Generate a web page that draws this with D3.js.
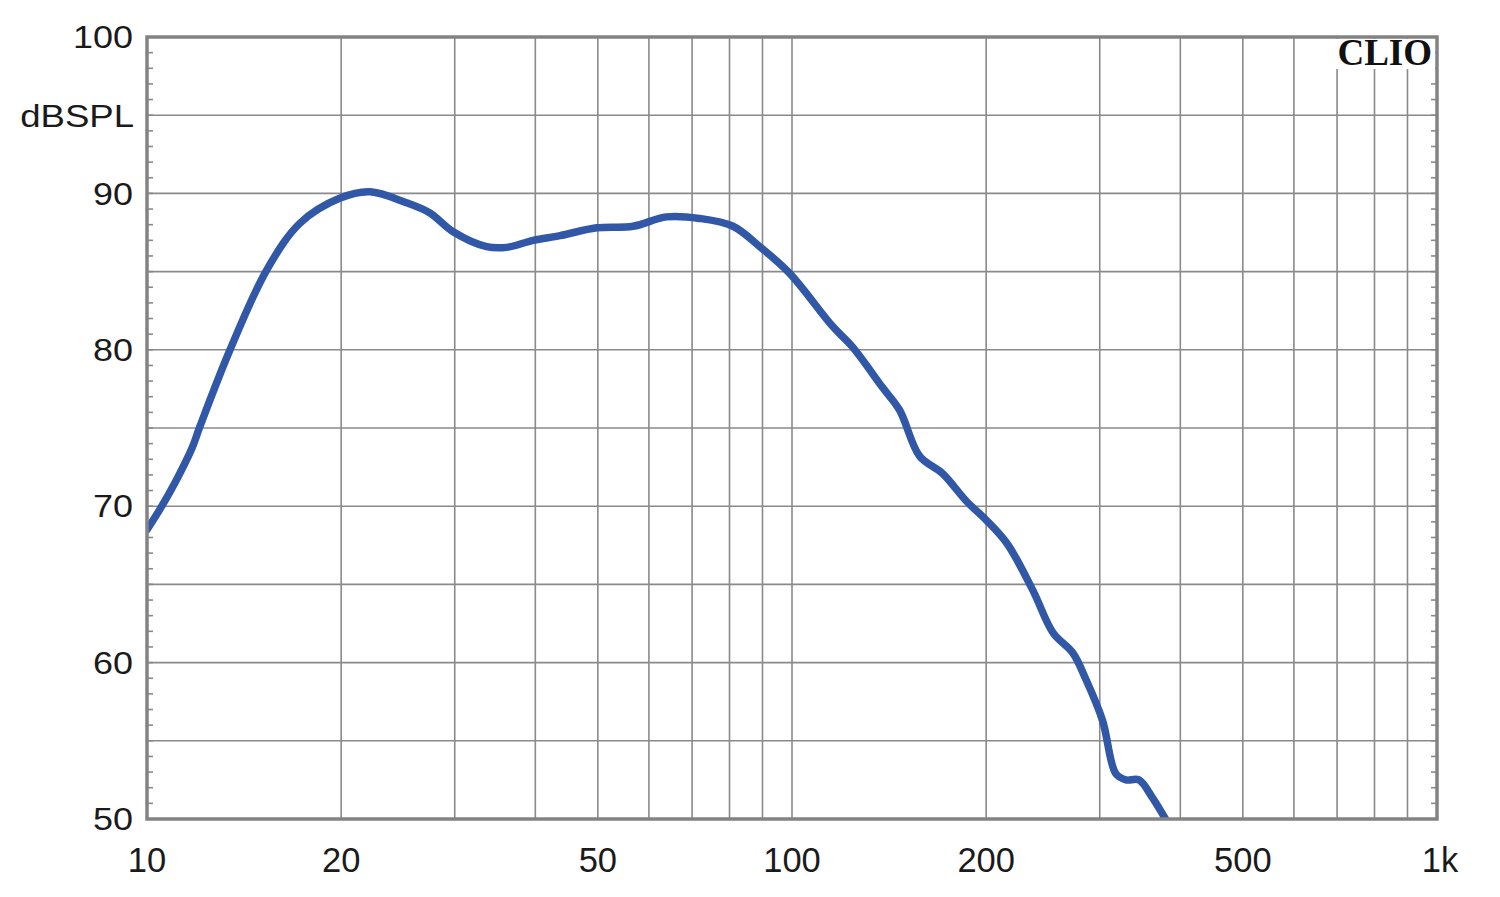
<!DOCTYPE html>
<html><head><meta charset="utf-8">
<script src="https://cdn.jsdelivr.net/npm/d3@7"></script>
<style>body{margin:0;background:#fff}svg{display:block}</style>
</head><body><svg id="c" width="1500" height="897"></svg>
<script>
const freqs = [10,10.47,11.05,11.74,12.08,13.45,15.33,17.27,19.93,22.16,25.25,27.45,29.83,33.6,36.1,39.7,43.7,49.8,56.7,63.9,71.9,81,89.1,99.1,115.6,124,138.1,146.8,157.7,171,186.6,200.2,215.6,236.4,254,272.7,285.7,303,317.7,329.4,345,361.6,379.3];
const spl   = [68.5,69.8,71.5,73.7,75.1,80.0,85.1,88.1,89.7,90.1,89.4,88.75,87.55,86.6,86.55,87.0,87.3,87.8,87.9,88.5,88.4,87.9,86.6,84.9,81.5,80.2,77.6,76.15,73.2,72.1,70.3,69.1,67.6,64.6,61.9,60.6,58.9,56.3,52.9,52.5,52.5,51.4,50.0];
const xTickValues = [10,20,50,100,200,500,1000];
const xTickLabels = ["10","20","50","100","200","500","1k"];
const xGridValues = [20,30,40,50,60,70,80,90,100,200,300,400,500,600,700,800,900];
const yTickValues = [50,60,70,80,90,100];
const yGridValues = [55,60,65,70,75,80,85,90,95];
const yMinorValues = d3.range(51,100);

const L=147,R=1437,T=37,B=819;
const svg=d3.select("#c");
const x=d3.scaleLog().domain([10,1000]).range([L,R]);
const y=d3.scaleLinear().domain([50,100]).range([B,T]);
const gridCol="#8a8a8a";

svg.append("g").selectAll("line").data(xGridValues).join("line")
 .attr("x1",d=>x(d)).attr("x2",d=>x(d)).attr("y1",T).attr("y2",B)
 .attr("stroke",gridCol).attr("stroke-width",1.6);
svg.append("g").selectAll("line").data(yGridValues).join("line")
 .attr("x1",L).attr("x2",R).attr("y1",d=>y(d)).attr("y2",d=>y(d))
 .attr("stroke",gridCol).attr("stroke-width",1.6);
svg.append("g").selectAll("line").data(yMinorValues).join("line")
 .attr("x1",L).attr("x2",L+6).attr("y1",d=>y(d)).attr("y2",d=>y(d))
 .attr("stroke",gridCol).attr("stroke-width",1.6);
svg.append("g").selectAll("line").data(yMinorValues).join("line")
 .attr("x1",R-6).attr("x2",R).attr("y1",d=>y(d)).attr("y2",d=>y(d))
 .attr("stroke",gridCol).attr("stroke-width",1.6);

svg.append("defs").append("clipPath").attr("id","clip").append("rect")
 .attr("x",L).attr("y",T).attr("width",R-L).attr("height",B-T);

const line=d3.line().x((d,i)=>x(freqs[i])).y(d=>y(d)).curve(d3.curveCatmullRom.alpha(0.5));
svg.append("path").datum(spl).attr("d",line).attr("fill","none")
 .attr("stroke","#3157a7").attr("stroke-width",7.5).attr("stroke-linejoin","round").attr("stroke-linecap","round")
 .attr("clip-path","url(#clip)");

svg.append("rect").attr("x",1336).attr("y",T+2).attr("width",R-1336-2).attr("height",30).attr("fill","#fff");

svg.append("rect").attr("x",L).attr("y",T).attr("width",R-L).attr("height",B-T)
 .attr("fill","none").attr("stroke","#838383").attr("stroke-width",3.5);

const font="'Liberation Sans', Arial, Helvetica, sans-serif";
svg.append("g").selectAll("text").data(yTickValues).join("text")
 .attr("transform",d=>`translate(133,${y(d)+3}) scale(1.16,1)`).attr("text-anchor","end").attr("dominant-baseline","middle")
 .attr("font-family",font).attr("font-size",31).attr("fill","#1a1a1a").text(d=>d);
svg.append("text").attr("transform",`translate(134,${y(95)+4}) scale(1.18,1)`).attr("text-anchor","end").attr("dominant-baseline","middle")
 .attr("font-family",font).attr("font-size",31).attr("fill","#1a1a1a").text("dBSPL");
svg.append("g").selectAll("text").data(xTickValues).join("text")
 .attr("x",(d,i)=>x(d)+(i===xTickValues.length-1?3:0)).attr("y",863).attr("text-anchor","middle").attr("dominant-baseline","middle")
 .attr("font-family",font).attr("font-size",34.5).attr("fill","#1a1a1a").text((d,i)=>xTickLabels[i]);
svg.append("text").attr("x",1432).attr("y",65).attr("text-anchor","end")
 .attr("font-family","'Liberation Serif', 'Times New Roman', serif").attr("font-weight","bold")
 .attr("font-size",37).attr("fill","#111").text("CLIO");
</script></body></html>
